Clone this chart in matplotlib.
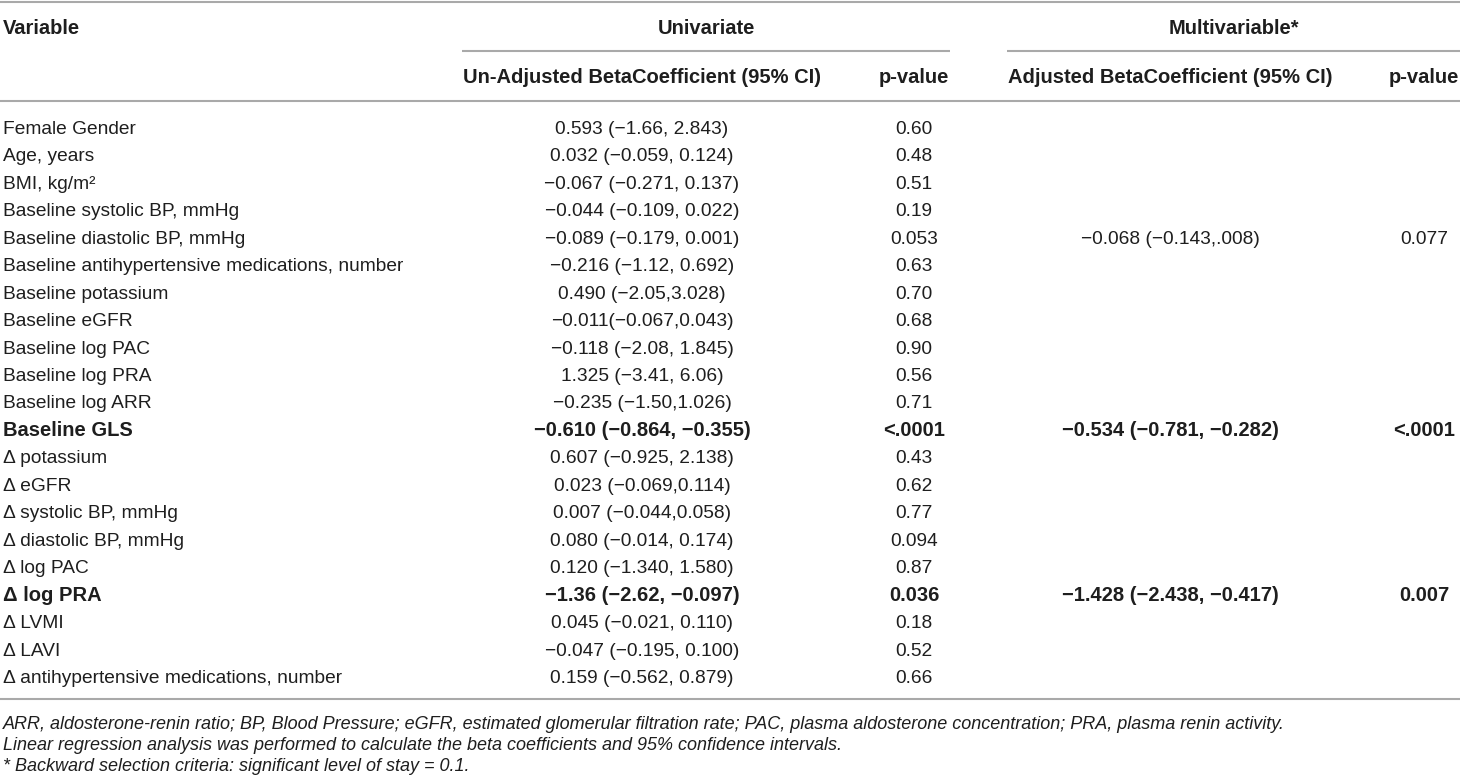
import matplotlib
matplotlib.use("Agg")
import matplotlib.pyplot as plt

plt.rcParams['font.family'] = ['Liberation Sans', 'DejaVu Sans']

# ---------------- data ----------------
variables = [
    "Female Gender", "Age, years", "BMI, kg/m\u00b2",
    "Baseline systolic BP, mmHg", "Baseline diastolic BP, mmHg",
    "Baseline antihypertensive medications, number", "Baseline potassium",
    "Baseline eGFR", "Baseline log PAC", "Baseline log PRA", "Baseline log ARR",
    "Baseline GLS", "\u0394 potassium", "\u0394 eGFR", "\u0394 systolic BP, mmHg",
    "\u0394 diastolic BP, mmHg", "\u0394 log PAC", "\u0394 log PRA", "\u0394 LVMI",
    "\u0394 LAVI", "\u0394 antihypertensive medications, number",
]
uni_coef = [
    "0.593 (\u22121.66, 2.843)", "0.032 (\u22120.059, 0.124)",
    "\u22120.067 (\u22120.271, 0.137)", "\u22120.044 (\u22120.109, 0.022)",
    "\u22120.089 (\u22120.179, 0.001)", "\u22120.216 (\u22121.12, 0.692)",
    "0.490 (\u22122.05,3.028)", "\u22120.011(\u22120.067,0.043)",
    "\u22120.118 (\u22122.08, 1.845)", "1.325 (\u22123.41, 6.06)",
    "\u22120.235 (\u22121.50,1.026)", "\u22120.610 (\u22120.864, \u22120.355)",
    "0.607 (\u22120.925, 2.138)", "0.023 (\u22120.069,0.114)",
    "0.007 (\u22120.044,0.058)", "0.080 (\u22120.014, 0.174)",
    "0.120 (\u22121.340, 1.580)", "\u22121.36 (\u22122.62, \u22120.097)",
    "0.045 (\u22120.021, 0.110)", "\u22120.047 (\u22120.195, 0.100)",
    "0.159 (\u22120.562, 0.879)",
]
uni_p = ["0.60", "0.48", "0.51", "0.19", "0.053", "0.63", "0.70", "0.68",
         "0.90", "0.56", "0.71", "<.0001", "0.43", "0.62", "0.77", "0.094",
         "0.87", "0.036", "0.18", "0.52", "0.66"]
multi_coef = ["", "", "", "", "\u22120.068 (\u22120.143,.008)", "", "", "", "", "",
              "", "\u22120.534 (\u22120.781, \u22120.282)", "", "", "", "", "",
              "\u22121.428 (\u22122.438, \u22120.417)", "", "", ""]
multi_p = ["", "", "", "", "0.077", "", "", "", "", "", "", "<.0001",
           "", "", "", "", "", "0.007", "", "", ""]
bold_rows = [11, 17]

group_headers = ["Univariate", "Multivariable*"]
sub_headers = ["Un-Adjusted BetaCoefficient (95% CI)", "p-value",
               "Adjusted BetaCoefficient (95% CI)", "p-value"]
footnotes = [
    "ARR, aldosterone-renin ratio; BP, Blood Pressure; eGFR, estimated glomerular "
    "filtration rate; PAC, plasma aldosterone concentration; PRA, plasma renin activity.",
    "Linear regression analysis was performed to calculate the beta coefficients "
    "and 95% confidence intervals.",
    "* Backward selection criteria: significant level of stay = 0.1.",
]

# ---------------- layout ----------------
W, H = 1460, 782
fig = plt.figure(figsize=(W / 100, H / 100), dpi=100)
ax = fig.add_axes([0, 0, 1, 1])
ax.set_xlim(0, W)
ax.set_ylim(H, 0)
ax.axis("off")

txt = "#1e1e1e"
line_c = "#a9a9a9"
fs = 13.8
fs_b = 14.5
lw = 1.5

x_var = 3
x_cols = [642, 914, 1170, 1424]
grp_spans = [(462, 950), (1007, 1460)]

# lines
ax.plot([0, W], [1.5, 1.5], color=line_c, lw=lw, solid_capstyle="butt")
for a, b in grp_spans:
    ax.plot([a, b], [51, 51], color=line_c, lw=lw, solid_capstyle="butt")
ax.plot([0, W], [101, 101], color=line_c, lw=lw, solid_capstyle="butt")
ax.plot([0, W], [699, 699], color=line_c, lw=lw, solid_capstyle="butt")

# headers
ax.text(x_var, 34, "Variable", fontsize=fs_b, fontweight="bold", color=txt,
        ha="left", va="baseline")
for (a, b), g in zip(grp_spans, group_headers):
    ax.text((a + b) / 2, 34, g, fontsize=fs_b, fontweight="bold", color=txt,
            ha="center", va="baseline")
for x, s in zip(x_cols, sub_headers):
    ax.text(x, 83, s, fontsize=fs_b, fontweight="bold", color=txt,
            ha="center", va="baseline")

# rows
y0, dy = 134, 27.45
for i, v in enumerate(variables):
    y = y0 + i * dy
    bold = i in bold_rows
    w = "bold" if bold else "normal"
    size = fs_b if bold else fs
    ax.text(x_var, y, v, fontsize=size, fontweight=w, color=txt, ha="left", va="baseline")
    for x, col in zip(x_cols, [uni_coef, uni_p, multi_coef, multi_p]):
        if col[i]:
            ax.text(x, y, col[i], fontsize=size, fontweight=w, color=txt,
                    ha="center", va="baseline")

# footnotes
for k, f in enumerate(footnotes):
    ax.text(x_var, 729 + k * 21, f, fontsize=13.0, fontstyle="italic", color=txt,
            ha="left", va="baseline")

fig.savefig("out.png", dpi=100)
